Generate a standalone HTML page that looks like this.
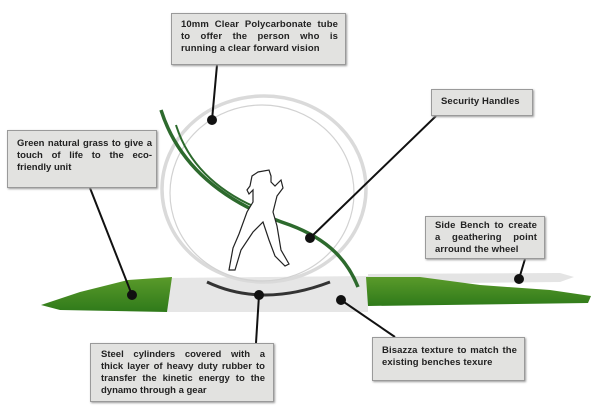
<!DOCTYPE html>
<html><head><style>
body{margin:0;background:#fff;width:608px;height:409px;overflow:hidden;position:relative;font-family:"Liberation Sans",sans-serif}
.b{position:absolute;background:#e2e2e0;border:1.5px solid #9a9a9a;box-shadow:1px 1px 2px #999;font-size:9.5px;font-weight:bold;color:#222;line-height:12px;padding:4px 7px 0 9px;box-sizing:border-box;text-align:justify;letter-spacing:0.1px}
.j{text-align:justify;text-align-last:justify;white-space:nowrap}
svg{position:absolute;left:0;top:0}
</style></head><body>
<svg width="608" height="409">
<defs><linearGradient id="g" x1="0" y1="0" x2="0" y2="1"><stop offset="0" stop-color="#5a9a2a"/><stop offset="1" stop-color="#2f7a1a"/></linearGradient></defs>
<polygon points="368,274 560,273 574,277 560,282 368,284" fill="#e4e4e4"/>
<polygon points="165,278 368,276 368,312 165,312" fill="#e6e6e6"/>
<polygon points="41,305 80,292 128,280 172,277 167,312 60,310" fill="url(#g)"/>
<polygon points="366,277 420,277 480,285 550,290 591,296 588,303 368,306" fill="url(#g)"/>
<ellipse cx="264" cy="189" rx="102" ry="93" fill="none" stroke="#dadada" stroke-width="3.5"/>
<ellipse cx="262" cy="193" rx="92" ry="88" fill="none" stroke="#d2d2d2" stroke-width="1.2"/>
<path d="M207,282 Q262,308 330,282" fill="none" stroke="#333" stroke-width="3"/>
<path d="M161,110 C180,170 230,205 290,225 C330,240 348,262 358,287" fill="none" stroke="#2d6a2d" stroke-width="3.5"/>
<path d="M176,125 C190,170 225,195 262,210" fill="none" stroke="#2d6a2d" stroke-width="2"/>
<path d="M258,172 l-6,4 l-2,10 l-3,4 l2,4 l4,-4 l0,12 l-6,10 l-8,22 l-6,14 l-4,22 l6,0 l6,-20 l12,-18 l10,-10 l6,18 l6,16 l10,10 l4,-2 l-8,-14 l-4,-24 l-4,-14 l4,-16 l6,-8 l-2,-8 l-6,6 l-4,-4 l0,-6 l-2,-6 z" fill="#fff" stroke="#222" stroke-width="1.2"/>
<g stroke="#111" stroke-width="2" fill="#111">
<line x1="217" y1="65" x2="212" y2="120"/><circle cx="212" cy="120" r="4"/>
<line x1="436" y1="116" x2="310" y2="238"/><circle cx="310" cy="238" r="4"/>
<line x1="90" y1="188" x2="132" y2="295"/><circle cx="132" cy="295" r="4"/>
<line x1="525" y1="259" x2="519" y2="279"/><circle cx="519" cy="279" r="4"/>
<line x1="256" y1="343" x2="259" y2="295"/><circle cx="259" cy="295" r="4"/>
<line x1="395" y1="337" x2="341" y2="300"/><circle cx="341" cy="300" r="4"/>
</g>
</svg>
<div class="b" style="left:171px;top:13px;width:175px;height:52px;padding-top:5px">10mm Clear Polycarbonate tube to offer the person who is running a clear forward vision</div>
<div class="b" style="left:431px;top:89px;width:102px;height:27px;padding-top:6px">Security Handles</div>
<div class="b" style="left:7px;top:130px;width:150px;height:58px;padding-top:7px;padding-right:4px;letter-spacing:0">Green natural grass to give a touch of life to the eco-friendly unit</div>
<div class="b" style="left:425px;top:216px;width:120px;height:43px;padding-top:3px">Side Bench to create a geathering point arround the wheel</div>
<div class="b" style="left:90px;top:343px;width:184px;height:59px;padding-top:5px;padding-left:10px;padding-right:8px;letter-spacing:0">
<div class="j">Steel cylinders covered with a</div>
<div class="j">thick layer of heavy duty rubber to</div>
<div class="j">transfer the kinetic energy to the</div>
<div>dynamo through a gear</div>
</div>
<div class="b" style="left:372px;top:337px;width:153px;height:44px;padding-top:7px">Bisazza texture to match the existing benches texure</div>
</body></html>
